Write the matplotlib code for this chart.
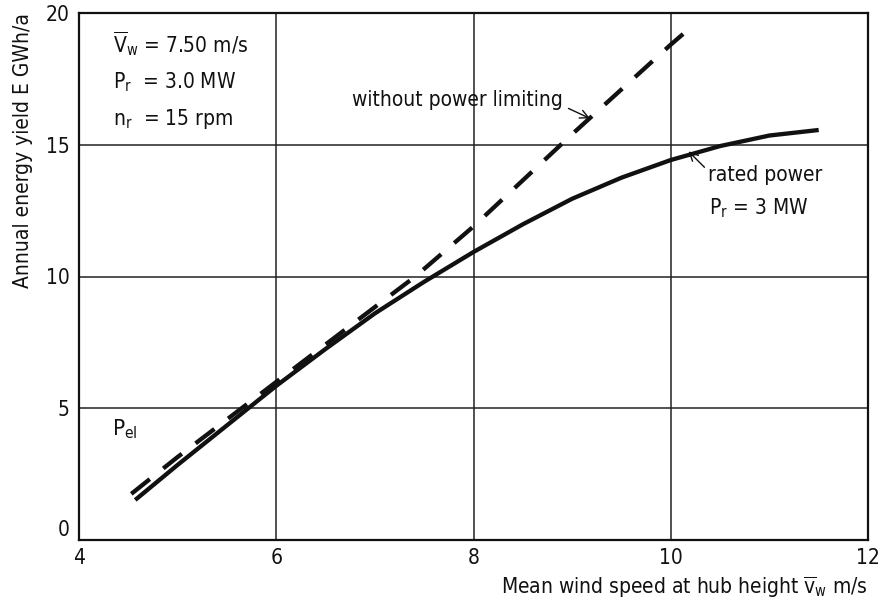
import matplotlib
matplotlib.use("Agg")
import matplotlib.pyplot as plt
from matplotlib import font_manager as fm

# Narrow sans-serif for the technical drawing look
family = "DejaVu Sans"
stretch = "normal"
for fam, st in [("DejaVu Sans", "condensed"), ("Liberation Sans Narrow", "condensed")]:
    try:
        path = fm.findfont(fm.FontProperties(family=fam, stretch=st), fallback_to_default=False)
        if "ondensed" in path or "Narrow" in path:
            family, stretch = fam, st
            break
    except Exception:
        pass

plt.rcParams["font.family"] = [family]
plt.rcParams["font.stretch"] = stretch
plt.rcParams["mathtext.fontset"] = "custom"
plt.rcParams["mathtext.rm"] = family
plt.rcParams["mathtext.it"] = family

# Annual energy yield with rated power limit (solid)
wind_rated = [4.57, 5.0, 5.5, 6.0, 6.5, 7.0, 7.5, 8.0, 8.5, 9.0, 9.5, 10.0, 10.5, 11.0, 11.5]
yield_rated = [1.52, 2.85, 4.35, 5.85, 7.25, 8.6, 9.8, 10.93, 11.98, 12.95, 13.75, 14.42, 14.95, 15.35, 15.56]

# Annual energy yield without power limiting (dashed)
wind_unlim = [4.53, 5.0, 6.0, 7.0, 7.41, 8.0, 9.0, 10.0, 10.23]
yield_unlim = [1.75, 3.15, 6.0, 8.84, 10.0, 11.9, 15.4, 18.8, 19.54]

x_ticks = [4, 6, 8, 10, 12]
y_ticks = [0, 5, 10, 15, 20]

FS = 15
INK = "#111111"

fig = plt.figure(figsize=(8.81, 6.11), dpi=100)
ax = fig.add_axes([79 / 881, 71 / 611, 789 / 881, 527 / 611])

ax.set_xlim(4, 12)
ax.set_ylim(0, 20)
ax.set_xticks(x_ticks)
ax.set_yticks(y_ticks)
ax.set_xticklabels([str(v) for v in x_ticks])
ax.set_yticklabels([str(v) for v in y_ticks])
ax.tick_params(length=0, labelsize=FS, colors=INK)
ax.tick_params(axis="y", pad=7)
ax.tick_params(axis="x", pad=6)
ax.grid(True, color="#222222", linewidth=1.1)
for s in ax.spines.values():
    s.set_linewidth(1.6)
    s.set_color(INK)

ax.get_yticklabels()[0].set_verticalalignment("bottom")

ax.plot(wind_rated, yield_rated, color=INK, linewidth=3.1, solid_capstyle="butt")
ax.plot(wind_unlim, yield_unlim, color=INK, linewidth=3.1, dashes=(5.5, 4.0),
        dash_capstyle="butt")

ax.set_xlabel(r"Mean wind speed at hub height $\overline{\mathrm{v}}_\mathrm{w}$ m/s",
              fontsize=FS, loc="right", labelpad=5, color=INK)
ax.set_ylabel("Annual energy yield E GWh/a", fontsize=FS, loc="top", labelpad=9, color=INK)

tx = dict(fontsize=FS, color=INK)
ax.text(0.043, 0.942, r"$\overline{\mathrm{V}}_\mathrm{w}$ = 7.50 m/s", transform=ax.transAxes, va="center", **tx)
ax.text(0.043, 0.869, r"$\mathrm{P}_\mathrm{r}$  = 3.0 MW", transform=ax.transAxes, va="center", **tx)
ax.text(0.043, 0.799, r"$\mathrm{n}_\mathrm{r}$  = 15 rpm", transform=ax.transAxes, va="center", **tx)

ax.annotate("without power limiting", xy=(9.18, 16.0), xytext=(7.84, 16.7),
            fontsize=FS, va="center", ha="center", color=INK,
            arrowprops=dict(arrowstyle="->", color=INK, lw=1.0,
                            shrinkA=2, shrinkB=0, relpos=(1.0, 0.2)))

ax.annotate("rated power", xy=(10.18, 14.75), xytext=(10.38, 13.85),
            fontsize=FS, va="center", ha="left", color=INK,
            arrowprops=dict(arrowstyle="->", color=INK, lw=1.0,
                            shrinkA=1, shrinkB=0, relpos=(0.0, 0.7)))
ax.text(10.39, 12.6, r"$\mathrm{P}_\mathrm{r}$ = 3 MW", va="center", ha="left", **tx)
ax.text(4.33, 4.2, r"$\mathrm{P}_{\mathrm{el}}$", va="center", ha="left", fontsize=16, color=INK)

fig.savefig("out.png", dpi=100)
